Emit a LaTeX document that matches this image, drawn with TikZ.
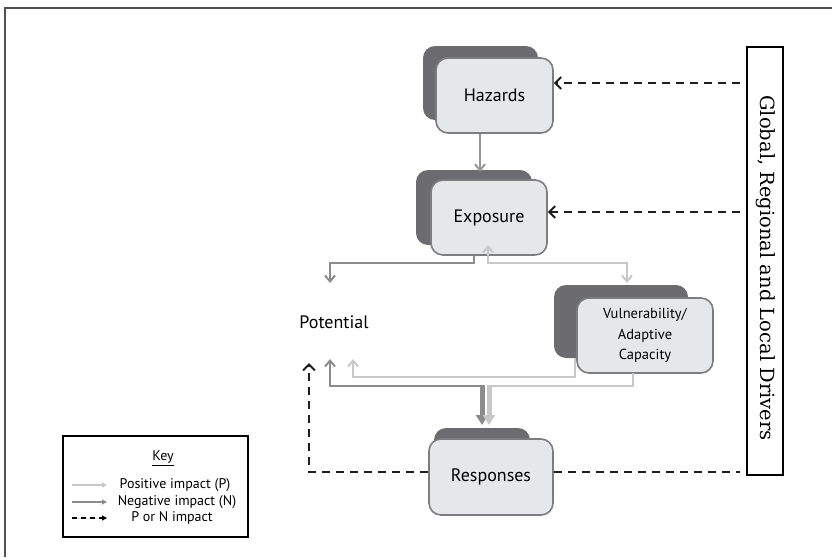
\documentclass[tikz,border=0pt]{standalone}
\usepackage{fontspec}
\setmainfont{PT Sans}
\newfontfamily\drvfont{DejaVu Serif}
\usetikzlibrary{arrows.meta,calc}
\definecolor{shadowc}{RGB}{108,108,112}
\definecolor{fillc}{RGB}{230,231,232}
\definecolor{edgec}{RGB}{125,125,128}
\definecolor{negc}{RGB}{140,140,140}
\definecolor{posc}{RGB}{200,200,200}
\definecolor{dashc}{RGB}{30,30,30}
\definecolor{framec}{RGB}{80,80,80}
\begin{document}
\begin{tikzpicture}[x=1pt,y=-1pt,
  frontbox/.style={draw=edgec,line width=1.6pt,fill=fillc,rounded corners=12pt,inner sep=0pt,align=center,font=\fontsize{18}{20}\selectfont},
  shadowbox/.style={fill=shadowc,rounded corners=12pt,inner sep=0pt},
  barb/.style={-{Straight Barb[length=6pt,width=10pt,line width=2pt]}},
  negline/.style={draw=negc,line width=2.5pt},
  posline/.style={draw=posc,line width=2.5pt},
  drvdash/.style={draw=dashc,line width=2pt,dash pattern=on 8pt off 6pt},
  dashtip/.style={-{Straight Barb[length=6pt,width=12pt,line width=2pt]}},
  keyline/.style={line width=1.5pt,-{Triangle[length=5pt,width=5pt]}},
  keytext/.style={font=\fontsize{14}{16}\selectfont,inner sep=0pt},
  fatarrow/.style={line width=5pt,-{Triangle[length=10pt,width=12pt]}}
]
\useasboundingbox (0,0) rectangle (832,557);
% outer frame
\draw[framec,line width=1.5pt] (5,557) -- (5,8) -- (832,8);

% Hazards
\node[shadowbox,minimum width=115pt,minimum height=74pt] (hazS) at (480.5,83) {};
\node[frontbox,minimum width=117pt,minimum height=75pt] (hazF) at (494.5,95.5) {Hazards};
% Exposure
\node[shadowbox,minimum width=116pt,minimum height=75pt] (expS) at (474,207.5) {};
\node[frontbox,minimum width=116pt,minimum height=75pt] (expF) at (489,217.5) {Exposure};
% Vulnerability
\node[shadowbox,minimum width=134pt,minimum height=73pt] (vulS) at (621,321.5) {};
\node[frontbox,minimum width=136pt,minimum height=75pt,font=\fontsize{14.5}{20.5}\selectfont] (vulF) at (645,335.5) {Vulnerability/\\Adaptive\\Capacity};
% Responses
\node[shadowbox,minimum width=96pt,minimum height=72pt] (resS) at (482,464) {};
\node[frontbox,minimum width=124pt,minimum height=76pt] (resF) at (491,477) {Responses};
% Potential
\node[font=\fontsize{18}{20}\selectfont,inner sep=0pt] (pot) at (334,322) {Potential};

% Drivers box
\node[draw=black,line width=1.5pt,minimum width=36pt,minimum height=428pt,inner sep=0pt] (drv) at (765,261) {};
\node[rotate=-90,font=\drvfont\fontsize{19.5}{21}\selectfont,inner sep=0pt] (drvtext) at (765.5,268) {Global, Regional and Local Drivers};

% coordinates
\coordinate (hzA) at ([xshift=-14.5pt]hazF.south);
\coordinate (hzB) at (hzA |- expS.north);
\coordinate (exN) at ([xshift=-15pt]expF.south);
\coordinate (exP) at (488,245);
\coordinate (vulIn) at (627,283);
\coordinate (potNeg) at (330,283);
\coordinate (vSout) at (575,358);
\coordinate (potPos) at (353,359);
\coordinate (potNeg2) at (330,359);
\coordinate (vFout) at (633,373);
\coordinate (resNeg) at (482,425);
\coordinate (resPos) at (489,425);

% Hazards -> Exposure
\draw[negline,barb,draw=negc!90] (hzA) -- ([yshift=-2pt]hzB);
% Exposure -> Potential (negative)
\draw[negline,barb] (exN) -- (exN |- 0,263) -- (potNeg |- 0,263) -- (potNeg);
% positive line Vulnerability <-> Exposure
\draw[posline,{Straight Barb[length=6pt,width=10pt,line width=2pt]}-{Straight Barb[length=6pt,width=10pt,line width=2pt]}] (exP) -- (exP |- 0,263) -- (vulIn |- 0,263) -- (vulIn);
% Vulnerability -> Potential (positive)
\draw[posline,barb] (vSout) -- (vSout |- 0,377) -- (potPos |- 0,377) -- (potPos);
% negative: Responses/Potential
\draw[negline,barb] (resNeg |- 0,386) -- (potNeg2 |- 0,386) -- (potNeg2);
\draw[posline] (vFout) -- (vFout |- 0,386) -- (resPos |- 0,386);
% fat arrows into Responses
\draw[fatarrow,draw=negc,fill=negc] (resNeg |- 0,385) -- (resNeg);
\draw[fatarrow,draw=posc,fill=posc] (resPos |- 0,385) -- (resPos);

% dashed drivers
\coordinate (d1) at (740,83);
\coordinate (d2) at (740,212);
\coordinate (d3) at (740,472);
\draw[drvdash,dashtip] (d1) -- (hazF.east |- d1);
\draw[drvdash,dashtip] (d2) -- (expF.east |- d2);
\draw[drvdash] (resF.east |- d3) -- (d3);
\coordinate (pd) at (309,363);
\draw[drvdash,dashtip] (resF.west |- d3) -- (pd |- d3) -- (pd);

% Key
\node[draw=black,line width=1.5pt,minimum width=185pt,minimum height=101pt,inner sep=0pt] (key) at (155.5,486.5) {};
\node[keytext] (keyt) at (163,458) {\underline{Key}};
\coordinate (k1a) at (72,485); \coordinate (k1b) at (107,485);
\coordinate (k2a) at (72,502); \coordinate (k2b) at (107,502);
\coordinate (k3a) at (72,518); \coordinate (k3b) at (107,518);
\draw[keyline,draw=posc,fill=posc] (k1a) -- (k1b);
\draw[keyline,draw=negc,fill=negc] (k2a) -- (k2b);
\draw[keyline,draw=black,fill=black,dash pattern=on 5pt off 4pt] (k3a) -- (k3b);
\node[keytext] (kt1) at (175,485) {Positive impact (P)};
\node[keytext] (kt2) at (177,502) {Negative impact (N)};
\node[keytext] (kt3) at (172,518) {P or N impact};
\end{tikzpicture}
\end{document}
